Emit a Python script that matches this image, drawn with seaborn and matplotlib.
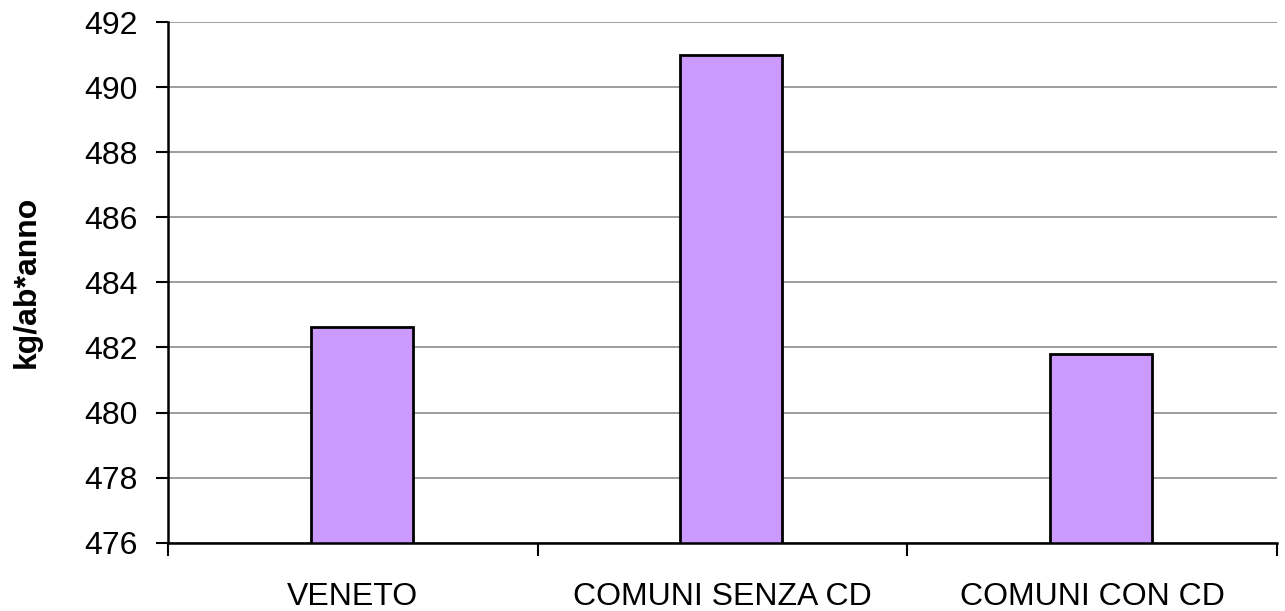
import matplotlib
matplotlib.use("Agg")
import matplotlib.pyplot as plt
import seaborn as sns
import pandas as pd

categories = ["VENETO", "COMUNI SENZA CD", "COMUNI CON CD"]
values = [482.64, 490.98, 481.80]
y_ticks = [476, 478, 480, 482, 484, 486, 488, 490, 492]

sns.set_theme(style="white")
plt.rcParams["font.family"] = ["Liberation Sans", "DejaVu Sans"]

df = pd.DataFrame({"cat": categories, "val": values})

fig = plt.figure(figsize=(12.85, 6.11), dpi=100)
ax = fig.add_axes([168/1285, 1 - 542.7/611, 1109/1285, 520.7/611])

sns.barplot(data=df, x="cat", y="val", color="#CC99FF", edgecolor="black",
            linewidth=2.0, width=0.276, saturation=1, ax=ax, zorder=3)
for p in ax.patches:
    p.set_facecolor("#CC99FF")

ax.set_ylim(476, 492)
off = 0.024
ax.set_xlim(-0.5 - off, 2.5 - off)
ax.set_yticks(y_ticks)
ax.set_yticklabels([str(t) for t in y_ticks], fontsize=23, color="black")
ax.yaxis.grid(True, color="#8c8c8c", linewidth=1.2, zorder=0)
ax.set_axisbelow(True)

ax.set_xticks([i - off for i in range(len(categories))])
ax.set_xticklabels(categories, fontsize=23, color="black")
ax.set_xticks([-0.5 - off + i for i in range(4)], minor=True)
ax.tick_params(axis="x", which="major", length=0, pad=28)
ax.tick_params(axis="x", which="minor", length=9, width=1.5, color="black", direction="out", bottom=True)
ax.tick_params(axis="y", which="major", length=9, width=1.5, color="black", direction="out", left=True, pad=13)

for s in ["top", "right"]:
    ax.spines[s].set_visible(False)
for s in ["left", "bottom"]:
    ax.spines[s].set_color("black")
    ax.spines[s].set_linewidth(1.8)
    ax.spines[s].set_zorder(4)

ax.set_xlabel("")
ax.set_ylabel("kg/ab*anno", fontsize=23, fontweight="bold", color="black")
ax.yaxis.set_label_coords(-0.1136, 0.5)

fig.savefig("out.png", dpi=100)
